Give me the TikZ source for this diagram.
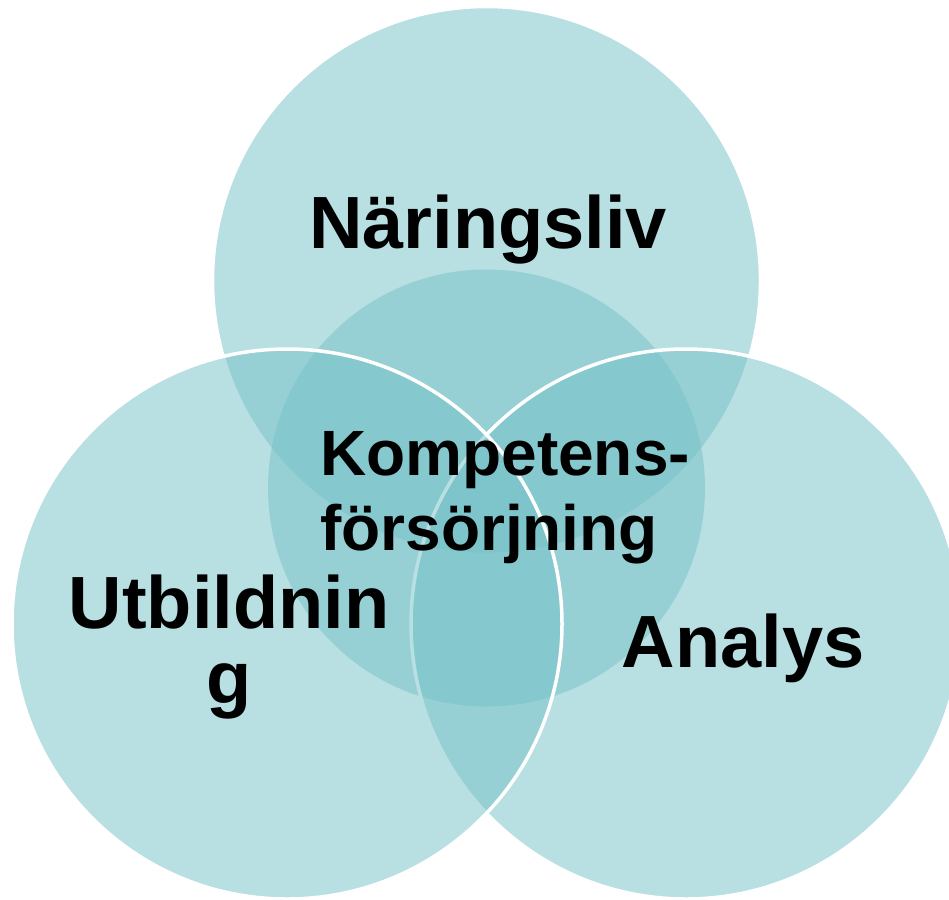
\documentclass[tikz,border=0pt]{standalone}
\usepackage{fontspec}
\setmainfont{Liberation Sans}
\definecolor{venn}{RGB}{119,195,201}
\begin{document}
\begin{tikzpicture}[x=1pt,y=-1pt,
  vcircle/.style={circle, inner sep=0pt, outer sep=0pt, fill=venn, fill opacity=0.52},
  vring/.style={vcircle, draw=white, line width=3.5pt},
  biglabel/.style={font=\fontsize{74}{75}\selectfont\bfseries, inner sep=0pt, text=black, align=center},
  midlabel/.style={font=\fontsize{64}{75}\selectfont\bfseries, inner sep=0pt, text=black, align=left}]
\useasboundingbox (0,0) rectangle (949,899);
\clip (0,0) rectangle (949,899);
\fill[white] (0,0) rectangle (949,899);
\node[vring, minimum size=548pt] (top) at (486.5,280.5) {};
\node[vcircle, minimum size=437pt] (mid) at (486.5,488) {};
\node[vring, minimum size=550pt] (right) at (686,624) {};
\node[vring, minimum size=550pt] (left) at (287,624) {};
\node[biglabel, anchor=base] (tlab) at (488,248) {Näringsliv};
\node[midlabel, anchor=north west] (mlab) at (320,431) {Kompetens-\\försörjning};
\node[biglabel, anchor=north] (llab) at (229,575) {Utbildnin\\g};
\node[biglabel, anchor=base] (rlab) at (743,667) {Analys};
\end{tikzpicture}
\end{document}
